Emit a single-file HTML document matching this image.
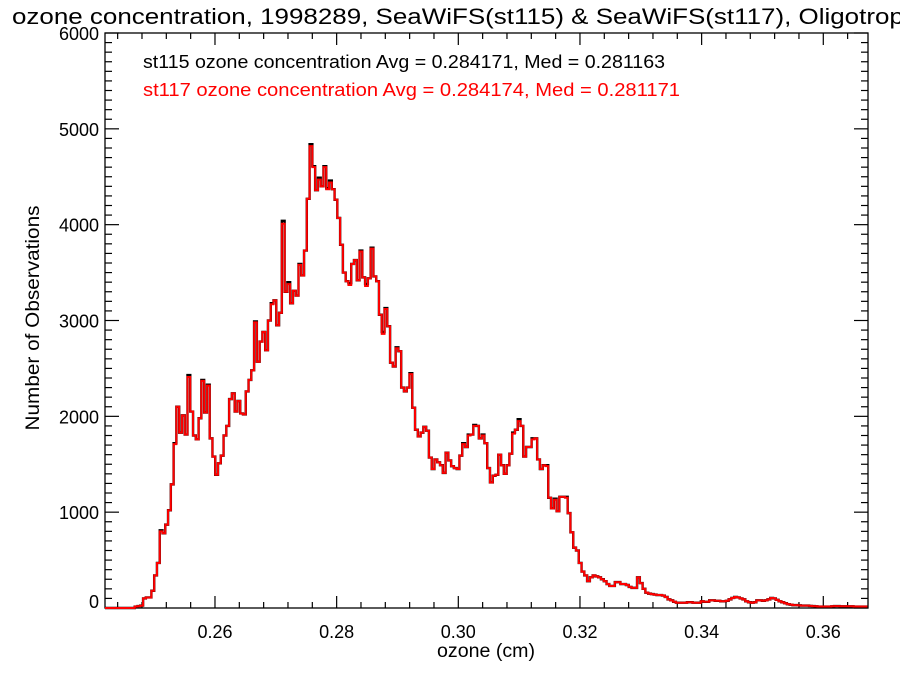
<!DOCTYPE html>
<html><head><meta charset="utf-8"><style>
body{margin:0;background:#fff;}
svg{display:block;font-family:"Liberation Sans",Arial,sans-serif;}
</style></head><body>
<svg id="chart" width="900" height="675" viewBox="0 0 900 675" xmlns="http://www.w3.org/2000/svg">
<rect x="0" y="0" width="900" height="675" fill="#fff"/>
<text x="12" y="24" font-size="22" fill="#000" textLength="925" lengthAdjust="spacingAndGlyphs">ozone concentration, 1998289, SeaWiFS(st115) &amp; SeaWiFS(st117), Oligotrophic</text>
<g id="axes"></g>
<g id="series"></g>
<text x="143" y="68" font-size="18" fill="#000" textLength="522" lengthAdjust="spacingAndGlyphs">st115 ozone concentration Avg = 0.284171, Med = 0.281163</text>
<text x="143" y="96" font-size="18" fill="#ff0000" textLength="537" lengthAdjust="spacingAndGlyphs">st117 ozone concentration Avg = 0.284174, Med = 0.281171</text>
<text x="486" y="657" font-size="19" text-anchor="middle" textLength="98" lengthAdjust="spacingAndGlyphs">ozone (cm)</text>
<text x="0" y="0" font-size="19" text-anchor="middle" textLength="225" lengthAdjust="spacingAndGlyphs" transform="translate(39,318) rotate(-90)">Number of Observations</text>
</svg>
<script>
const xTickLabels = ["0.26","0.28","0.30","0.32","0.34","0.36"];
const xTickValues = [0.26,0.28,0.30,0.32,0.34,0.36];
const yTickLabels = ["0","1000","2000","3000","4000","5000","6000"];
const yTickValues = [0,1000,2000,3000,4000,5000,6000];
const binStart = 0.24225;
const binWidth = 0.0004562;
const st115 = [0,0,0,0,0,0,0,0,0,0,15,20,25,
100,110,110,180,340,470,810,780,870,1020,1290,1720,2100,1830,2010,1810,2430,2050,1800,1760,1980,2380,2040,2330,1770,1580,1390,1510,1590,1800,1900,2180,2240,2050,2160,2030,
2020,2260,2380,2480,2990,2570,2780,2880,2690,3000,3180,3210,2950,3080,4040,3300,3400,3180,3310,3260,3590,3470,3730,4270,4840,4610,4360,4490,4400,4610,4380,4460,4370,4260,4070,3790,3500,3410,3390,
3590,3630,3420,3730,3450,3380,3440,3760,3460,3410,3060,2880,3130,2940,2560,2520,2720,2680,2300,2260,2300,2450,2090,1860,1790,1830,1890,1850,1570,1450,1550,1520,1490,1410,
1620,1540,1480,1460,1450,1590,1720,1680,1810,1810,1910,1900,1770,1810,1720,1460,1310,1380,1390,1600,1490,1400,1490,1610,1830,1860,1970,1900,1580,1680,1680,1770,1770,1550,1450,1490,1490,1150,1040,1140,1010,1160,1160,1160,990,790,630,600,470,380,340,280,
320,340,330,320,300,280,250,230,230,270,270,250,250,240,220,210,210,320,260,200,160,150,145,140,135,135,130,115,90,80,65,55,55,55,55,60,60,55,55,55,70,65,65,80,80,75,75,70,70,75,
90,105,115,110,100,90,70,60,55,60,80,80,75,80,90,105,100,85,70,60,50,40,35,30,30,28,25,25,25,22,20,18,15,15,15,15,15,18,20,20,18,18,18,18,18,15,15,15,15,15];
const st117 = [0,0,0,0,0,0,0,0,0,0,15,20,25,
100,110,110,180,340,470,800,780,870,1020,1290,1710,2100,1830,2010,1810,2410,2050,1800,1760,1980,2370,2040,2320,1770,1580,1390,1510,1590,1800,1900,2180,2240,2050,2160,2030,
2020,2260,2380,2480,2980,2570,2780,2880,2690,3000,3170,3210,2950,3080,4010,3300,3380,3180,3310,3260,3580,3470,3730,4270,4820,4600,4360,4470,4400,4600,4370,4440,4370,4260,4070,3790,3500,3410,3370,
3590,3630,3420,3720,3450,3360,3440,3750,3460,3410,3060,2860,3120,2940,2560,2520,2710,2680,2300,2260,2300,2440,2090,1860,1790,1830,1890,1850,1570,1450,1550,1520,1490,1410,
1620,1540,1480,1460,1450,1590,1710,1680,1800,1810,1900,1900,1770,1800,1720,1460,1310,1380,1390,1600,1490,1400,1490,1610,1820,1860,1950,1900,1580,1680,1680,1760,1770,1550,1450,1490,1480,1150,1040,1130,1010,1160,1160,1150,990,790,630,600,470,380,340,280,
320,340,330,320,300,280,250,230,230,270,270,250,250,240,220,210,210,320,260,200,160,150,145,140,135,135,130,115,90,80,65,55,55,55,55,60,60,55,55,55,70,65,65,80,80,75,75,70,70,75,
90,105,115,110,100,90,70,60,55,60,80,80,75,80,90,105,100,85,70,60,50,40,35,30,30,28,25,25,25,22,20,18,15,15,15,15,15,18,20,20,18,18,18,18,18,15,15,15,15,15];

const NS = "http://www.w3.org/2000/svg";
const L = 105, R = 868, T = 33, B = 608;
const xMin = 0.24192, xMax = 0.36735, yMin = 0, yMax = 6000;
function sx(v){ return L + (v - xMin) / (xMax - xMin) * (R - L); }
function sy(v){ return B - (v - yMin) / (yMax - yMin) * (B - T); }
function mk(tag, attrs, parent){ const e = document.createElementNS(NS, tag); for (const k in attrs) e.setAttribute(k, attrs[k]); parent.appendChild(e); return e; }

const axes = document.getElementById('axes');
const frame = mk('rect', {x:L, y:T, width:R-L, height:B-T, fill:'none', stroke:'#000', 'stroke-width':1.3}, axes);



for (let v = 0.244; v <= xMax + 1e-9; v += 0.004) {
  const isMajor = Math.abs(Math.round(v * 50) - v * 50) < 1e-6;
  const x = sx(v), len = isMajor ? 12 : 6;
  const t1 = mk('line', {x1:x, y1:B, x2:x, y2:B-len, stroke:'#000', 'stroke-width':1.2}, axes);
  
  
  const t2 = mk('line', {x1:x, y1:T, x2:x, y2:T+len, stroke:'#000', 'stroke-width':1.2}, axes);
  
  
}
xTickValues.forEach((v, i) => {
  const t = mk('text', {x:sx(v), y:B+30, 'font-size':18, 'text-anchor':'middle'}, axes);
  t.textContent = xTickLabels[i];
  
  
});
for (let v = 0; v <= yMax; v += 100) {
  const isMajor = v % 1000 === 0;
  const y = sy(v), len = isMajor ? 14 : 7;
  const t1 = mk('line', {x1:L, y1:y, x2:L+len, y2:y, stroke:'#000', 'stroke-width':1.2}, axes);
  
  
  const t2 = mk('line', {x1:R, y1:y, x2:R-len, y2:y, stroke:'#000', 'stroke-width':1.2}, axes);
  
  
}
yTickValues.forEach((v, i) => {
  const t = mk('text', {x:L-6, y:sy(v) + (v === 0 ? 0 : 7), 'font-size':18, 'text-anchor':'end'}, axes);
  t.textContent = yTickLabels[i];
  
  
});

function stepPath(vals){
  let d = 'M' + L + ' ' + sy(0);
  vals.forEach((v, k) => {
    const x0 = Math.max(L, sx(binStart + k * binWidth));
    const x1 = Math.min(R, sx(binStart + (k + 1) * binWidth));
    d += ' H' + x0.toFixed(2) + ' V' + sy(v).toFixed(2) + ' H' + x1.toFixed(2);
  });
  return d;
}
const series = document.getElementById('series');
const p1 = mk('path', {d:stepPath(st115), fill:'none', stroke:'#000', 'stroke-width':2.4}, series);


const p2 = mk('path', {d:stepPath(st117), fill:'none', stroke:'#ff0000', 'stroke-width':2}, series);


</script>
</body></html>
